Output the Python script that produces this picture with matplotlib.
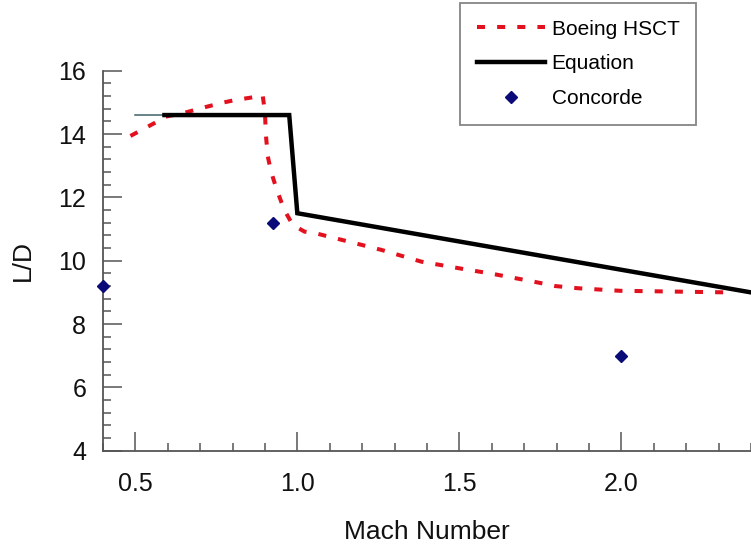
import numpy as np
import matplotlib
matplotlib.use("Agg")
import matplotlib.pyplot as plt
from matplotlib.ticker import MultipleLocator

plt.rcParams['font.family'] = ['Liberation Sans', 'DejaVu Sans']

# Boeing HSCT curve
boeing_x = [0.485, 0.558, 0.594, 0.651, 0.708, 0.769, 0.806, 0.862, 0.893,
            0.900, 0.903, 0.909, 0.919, 0.937, 0.960, 0.986, 1.022, 1.063,
            1.187, 1.26, 1.383, 1.517, 1.595, 1.729, 1.796, 1.868, 1.997,
            2.136, 2.33]
boeing_y = [13.94, 14.34, 14.55, 14.67, 14.83, 14.99, 15.07, 15.16, 15.23,
            14.7, 13.97, 13.29, 12.81, 12.23, 11.6, 11.13, 10.92, 10.85,
            10.53, 10.34, 9.97, 9.73, 9.6, 9.34, 9.2, 9.13, 9.05,
            9.03, 9.0]

# equation line
eq_x = [0.59, 0.975, 1.0, 2.4]
eq_y = [14.6, 14.6, 11.5, 9.0]

# thin lead-in segment
lead_x = [0.5, 0.59]
lead_y = [14.6, 14.6]

# Concorde points
conc_x = [0.4, 0.924, 2.0]
conc_y = [9.2, 11.2, 7.0]

fig = plt.figure(figsize=(7.51, 5.47), dpi=100)
ax = fig.add_axes([0.137, 0.176, 0.863, 0.6947])

ax.plot(lead_x, lead_y, color='#40606a', lw=1.1, zorder=2)
ax.plot(boeing_x, boeing_y, color='#e3101e', lw=2.9, dashes=(2, 3),
        label='Boeing HSCT', zorder=3)
ax.plot(eq_x, eq_y, color='black', lw=3.2, label='Equation', zorder=4,
        solid_joinstyle='miter')
ax.plot(conc_x, conc_y, ls='none', marker='D', ms=6.5, color='#0a0a78',
        label='Concorde', zorder=5, clip_on=False)

ax.set_xlim(0.4, 2.4)
ax.set_ylim(4, 16)
ax.xaxis.set_major_locator(MultipleLocator(0.5))
ax.xaxis.set_minor_locator(MultipleLocator(0.1))
ax.yaxis.set_major_locator(MultipleLocator(2))
ax.yaxis.set_minor_locator(MultipleLocator(0.4))
ax.xaxis.set_major_formatter(matplotlib.ticker.FormatStrFormatter('%.1f'))

for s in ['top', 'right']:
    ax.spines[s].set_visible(False)
for s in ['left', 'bottom']:
    ax.spines[s].set_color('#555555')
    ax.spines[s].set_linewidth(1.3)

ax.tick_params(which='both', direction='in', colors='#555555', width=1.1,
               labelcolor='#111111')
ax.tick_params(which='major', length=14, labelsize=18)
ax.tick_params(which='minor', length=6)
ax.tick_params(axis='x', which='major', pad=15)
ax.tick_params(axis='y', which='major', pad=12)

ax.set_xlabel('Mach Number', fontsize=19, color='#111111')
ax.set_ylabel('L/D', fontsize=19, color='#111111')
ax.xaxis.set_label_coords(0.5, -0.214)
ax.xaxis.label.set_va('center')
ax.yaxis.set_label_coords(-0.123, 0.5)
ax.yaxis.label.set_va('center')

leg = fig.legend(loc='upper left', bbox_to_anchor=(460 / 751, 1 - 3 / 547),
                 bbox_transform=fig.transFigure, fontsize=15, frameon=True,
                 fancybox=False, edgecolor='#666666', handlelength=3.3,
                 handletextpad=0.3, labelspacing=0.75, borderpad=0.8,
                 borderaxespad=0)
leg.get_frame().set_linewidth(1.3)

fig.savefig('out.png', dpi=100)
